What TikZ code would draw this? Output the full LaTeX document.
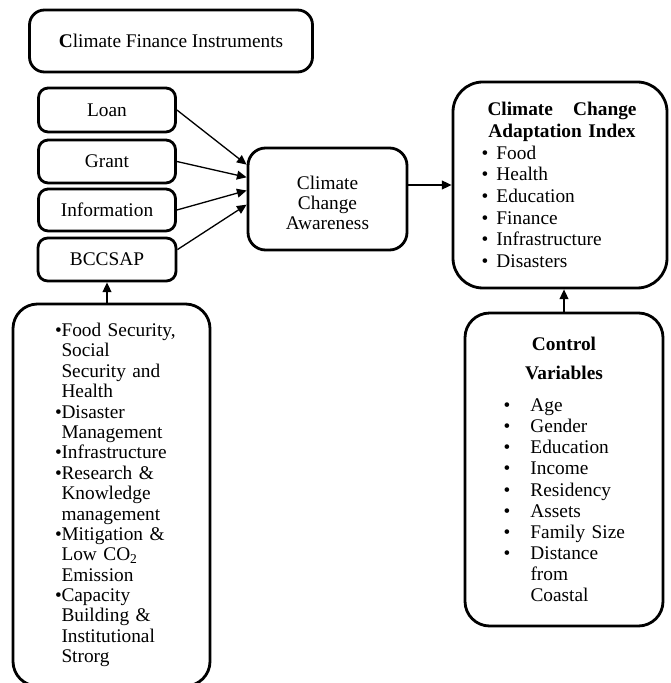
\documentclass[tikz,border=0pt]{standalone}
\usepackage{fontspec}
\setmainfont{Liberation Serif}
\usepackage{tikz}
\usetikzlibrary{arrows.meta,positioning,calc}

\newcommand{\bulitem}[2][0cm]{\hspace*{#1}\makebox[#2][l]{\textbullet}}
\newcommand{\bulhang}[2][0cm]{\hspace*{#1}\hspace*{#2}}

\begin{document}
\begin{tikzpicture}[
  box/.style={draw, line width=1.6pt, rounded corners=#1, align=center,
    inner sep=0pt, font=\fontsize{11}{12.3}\selectfont},
  box/.default=5.5pt,
  arr/.style={-{Triangle[length=5.5pt,width=5pt]}, line width=0.75pt}
]
  \useasboundingbox (0,0) rectangle (13.4,-13.66);

  % instruments
  \node[box=8.5pt, minimum width=5.66cm, minimum height=1.24cm] (cfi)
    at (3.42,-0.82) {\textbf{C}limate Finance Instruments};
  \node[box, minimum width=2.74cm, minimum height=0.88cm] (loan)
    at (2.14,-2.20) {Loan};
  \node[box, minimum width=2.74cm, minimum height=0.86cm] (grant)
    at (2.14,-3.23) {Grant};
  \node[box, minimum width=2.74cm, minimum height=0.84cm] (info)
    at (2.14,-4.20) {Information};
  \node[box, minimum width=2.76cm, minimum height=0.86cm] (bccsap)
    at (2.14,-5.19) {BCCSAP};

  % awareness and index
  \node[box=10pt, minimum width=3.18cm, minimum height=2.04cm,
    font=\fontsize{11}{11.4}\selectfont] (aware)
    at (6.55,-3.98) {\rule{0pt}{12pt}Climate\\Change\\Awareness};
  \node[box=17pt, minimum width=4.28cm, minimum height=4.12cm,
    text width=3.14cm, align=left] (adapt) at (11.2,-3.70) {%
    \hspace*{0.12cm}\makebox[2.98cm][s]{\textbf{Climate\hfill Change}}\\
    \hspace*{0.12cm}\makebox[2.98cm]{\textbf{Adaptation Index}}\\
    \bulitem{0.30cm}Food\\
    \bulitem{0.30cm}Health\\
    \bulitem{0.30cm}Education\\
    \bulitem{0.30cm}Finance\\
    \bulitem{0.30cm}Infrastructure\\
    \bulitem{0.30cm}Disasters};

  % BCCSAP themes
  \node[box=14pt, minimum width=3.94cm, minimum height=7.64cm,
    text width=2.8cm, align=left, font=\fontsize{11}{11.6}\selectfont]
    (themes) at (2.23,-9.90) {%
    \bulitem[0.27cm]{0.13cm}Food Security,\\
    \bulhang[0.27cm]{0.13cm}Social\\
    \bulhang[0.27cm]{0.13cm}Security and\\
    \bulhang[0.27cm]{0.13cm}Health\\
    \bulitem[0.27cm]{0.13cm}Disaster\\
    \bulhang[0.27cm]{0.13cm}Management\\
    \bulitem[0.27cm]{0.13cm}Infrastructure\\
    \bulitem[0.27cm]{0.13cm}Research \&\\
    \bulhang[0.27cm]{0.13cm}Knowledge\\
    \bulhang[0.27cm]{0.13cm}management\\
    \bulitem[0.27cm]{0.13cm}Mitigation \&\\
    \bulhang[0.27cm]{0.13cm}Low CO\smash{\textsubscript{2}}\\
    \bulhang[0.27cm]{0.13cm}Emission\\
    \bulitem[0.27cm]{0.13cm}Capacity\\
    \bulhang[0.27cm]{0.13cm}Building \&\\
    \bulhang[0.27cm]{0.13cm}Institutional\\
    \bulhang[0.27cm]{0.13cm}Strorg};

  % controls
  \node[box=14pt, minimum width=3.96cm, minimum height=6.26cm,
    text width=2.42cm, align=left, font=\fontsize{11}{12}\selectfont]
    (ctrl) at (11.28,-9.39) {%
    \makebox[2.42cm]{\textbf{Control}}\\[4.5pt]
    \makebox[2.42cm]{\textbf{Variables}}\\[6.2pt]
    \bulitem{0.54cm}Age\\
    \bulitem{0.54cm}Gender\\
    \bulitem{0.54cm}Education\\
    \bulitem{0.54cm}Income\\
    \bulitem{0.54cm}Residency\\
    \bulitem{0.54cm}Assets\\
    \bulitem{0.54cm}\mbox{Family Size}\\
    \bulitem{0.54cm}Distance\\
    \bulhang{0.54cm}from\\
    \bulhang{0.54cm}Coastal};

  % arrows
  \draw[arr] (loan.east) -- (aware.157);
  \draw[arr] (grant.east) -- (aware.165);
  \draw[arr] (info.east) -- (aware.174);
  \draw[arr] (bccsap.8) -- (aware.184);
  \draw[arr] (aware.east |- adapt.west) -- (adapt.west);
  \draw[arr] (ctrl.north) -- (ctrl.north |- adapt.south);
  \draw[arr] (bccsap.south |- themes.north) -- (bccsap.south);
\end{tikzpicture}
\end{document}
